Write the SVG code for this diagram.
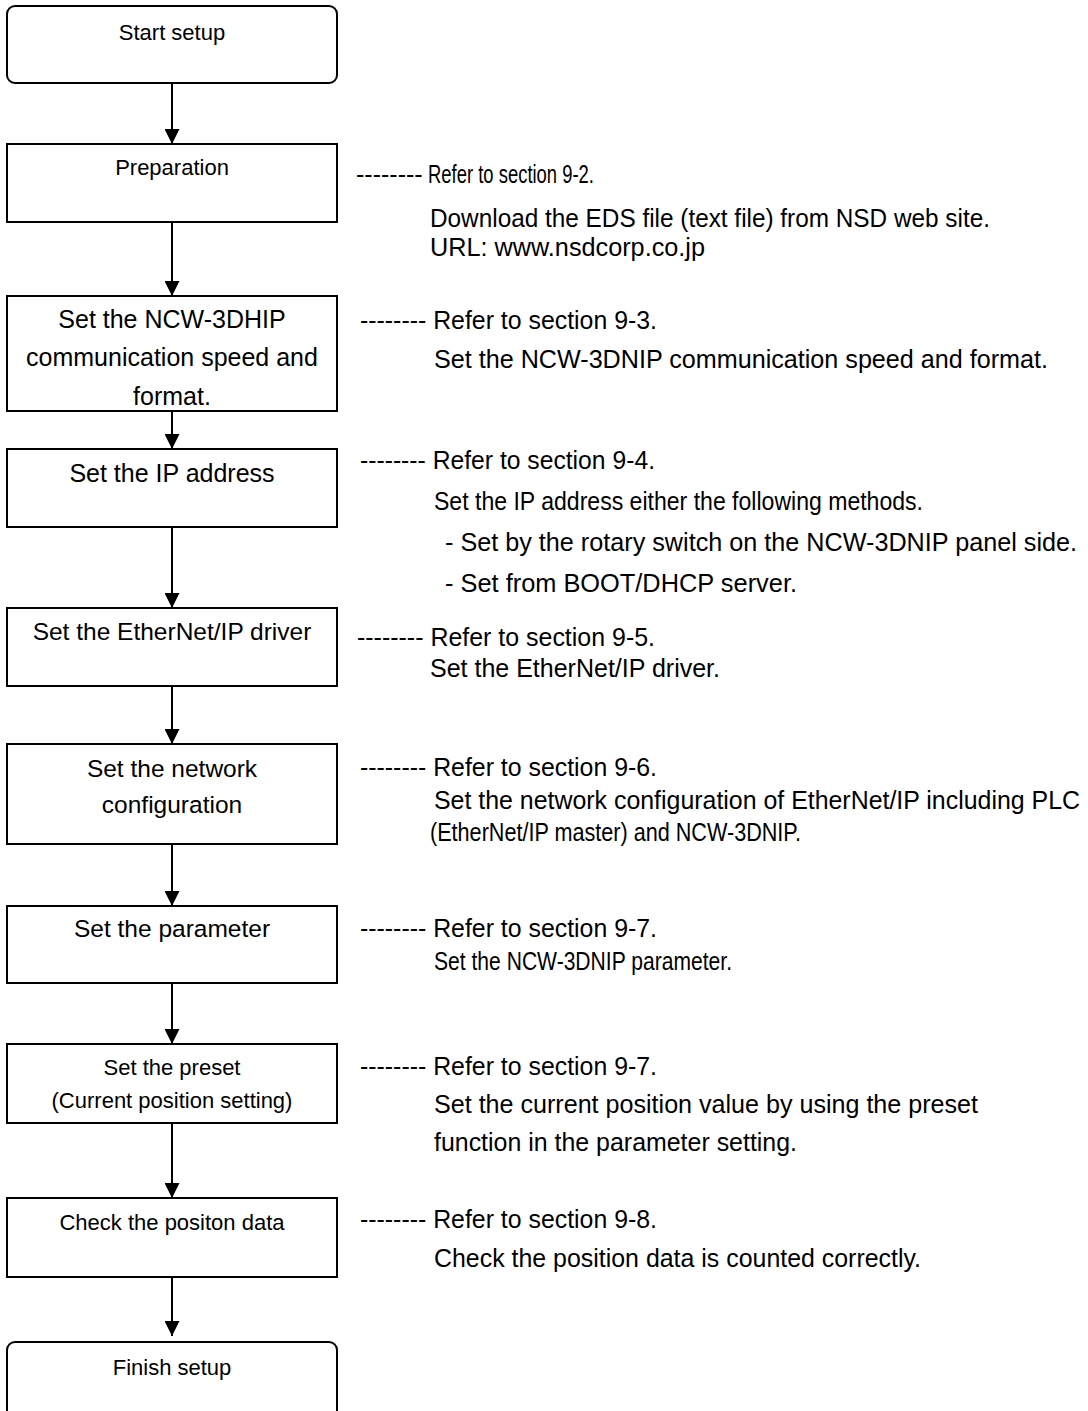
<svg xmlns="http://www.w3.org/2000/svg" width="1088" height="1411" viewBox="0 0 1088 1411">
<style>
.box{fill:#fff;stroke:#000;stroke-width:2}
.bt{font-family:"Liberation Sans",Arial,sans-serif;fill:#000;text-anchor:middle}
.rt{font-family:"Liberation Sans",Arial,sans-serif;fill:#000;font-size:25px}
.con{stroke:#000;stroke-width:2;fill:none;marker-end:url(#ah)}
</style>
<defs>
<marker id="ah" markerUnits="userSpaceOnUse" markerWidth="15" markerHeight="15" refX="15" refY="7.5" orient="auto" viewBox="0 0 15 15">
<path d="M0,0 L15,7.5 L0,15 z" fill="#000"/>
</marker>
</defs>
<rect width="1088" height="1411" fill="#fff"/>
<g id="connectors">
<line class="con" x1="172" y1="83" x2="172" y2="144"/>
<line class="con" x1="172" y1="222" x2="172" y2="296"/>
<line class="con" x1="172" y1="411" x2="172" y2="449"/>
<line class="con" x1="172" y1="527" x2="172" y2="608"/>
<line class="con" x1="172" y1="686" x2="172" y2="744"/>
<line class="con" x1="172" y1="844" x2="172" y2="906"/>
<line class="con" x1="172" y1="983" x2="172" y2="1044"/>
<line class="con" x1="172" y1="1123" x2="172" y2="1198"/>
<line class="con" x1="172" y1="1277" x2="172" y2="1336"/>
</g>
<g id="start">
<rect class="box" x="7" y="6" width="330" height="77" rx="8"/>
<text class="bt" x="172" y="40" font-size="22">Start setup</text>
</g>
<g id="preparation">
<rect class="box" x="7" y="144" width="330" height="78"/>
<text class="bt" x="172" y="175" font-size="22">Preparation</text>
</g>
<g id="comm">
<rect class="box" x="7" y="296" width="330" height="115"/>
<text class="bt" x="172" y="328" font-size="25">Set the NCW-3DHIP</text>
<text class="bt" x="172" y="366" font-size="25">communication speed and</text>
<text class="bt" x="172" y="405" font-size="25">format.</text>
</g>
<g id="ip">
<rect class="box" x="7" y="449" width="330" height="78"/>
<text class="bt" x="172" y="482" font-size="25">Set the IP address</text>
</g>
<g id="driver">
<rect class="box" x="7" y="608" width="330" height="78"/>
<text class="bt" x="172" y="640" font-size="24.5">Set the EtherNet/IP driver</text>
</g>
<g id="network">
<rect class="box" x="7" y="744" width="330" height="100"/>
<text class="bt" x="172" y="777" font-size="24.5">Set the network</text>
<text class="bt" x="172" y="813" font-size="24.5">configuration</text>
</g>
<g id="parameter">
<rect class="box" x="7" y="906" width="330" height="77"/>
<text class="bt" x="172" y="937" font-size="24.5">Set the parameter</text>
</g>
<g id="preset">
<rect class="box" x="7" y="1044" width="330" height="79"/>
<text class="bt" x="172" y="1075" font-size="22">Set the preset</text>
<text class="bt" x="172" y="1108" font-size="22">(Current position setting)</text>
</g>
<g id="check">
<rect class="box" x="7" y="1198" width="330" height="79"/>
<text class="bt" x="172" y="1230" font-size="22">Check the positon data</text>
</g>
<g id="finish">
<rect class="box" x="7" y="1342" width="330" height="100" rx="8"/>
<text class="bt" x="172" y="1375" font-size="22">Finish setup</text>
</g>
<g id="notes">
<text class="rt" x="356" y="183">-------- <tspan x="428" textLength="166" lengthAdjust="spacingAndGlyphs">Refer to section 9-2.</tspan></text>
<text class="rt" x="430" y="227" textLength="560" lengthAdjust="spacingAndGlyphs">Download the EDS file (text file) from NSD web site.</text>
<text class="rt" x="430" y="256" textLength="275" lengthAdjust="spacingAndGlyphs">URL: www.nsdcorp.co.jp</text>
<text class="rt" x="360" y="329" textLength="297" lengthAdjust="spacingAndGlyphs">-------- Refer to section 9-3.</text>
<text class="rt" x="434" y="368" textLength="614" lengthAdjust="spacingAndGlyphs">Set the NCW-3DNIP communication speed and format.</text>
<text class="rt" x="360" y="469" textLength="295" lengthAdjust="spacingAndGlyphs">-------- Refer to section 9-4.</text>
<text class="rt" x="434" y="510" textLength="489" lengthAdjust="spacingAndGlyphs">Set the IP address either the following methods.</text>
<text class="rt" x="445" y="551" textLength="632" lengthAdjust="spacingAndGlyphs">- Set by the rotary switch on the NCW-3DNIP panel side.</text>
<text class="rt" x="445" y="592" textLength="352" lengthAdjust="spacingAndGlyphs">- Set from BOOT/DHCP server.</text>
<text class="rt" x="357" y="646" textLength="298" lengthAdjust="spacingAndGlyphs">-------- Refer to section 9-5.</text>
<text class="rt" x="430" y="677" textLength="290" lengthAdjust="spacingAndGlyphs">Set the EtherNet/IP driver.</text>
<text class="rt" x="360" y="776" textLength="297" lengthAdjust="spacingAndGlyphs">-------- Refer to section 9-6.</text>
<text class="rt" x="434" y="809" textLength="646" lengthAdjust="spacingAndGlyphs">Set the network configuration of EtherNet/IP including PLC</text>
<text class="rt" x="430" y="841" textLength="371" lengthAdjust="spacingAndGlyphs">(EtherNet/IP master) and NCW-3DNIP.</text>
<text class="rt" x="360" y="937" textLength="297" lengthAdjust="spacingAndGlyphs">-------- Refer to section 9-7.</text>
<text class="rt" x="434" y="970" textLength="298" lengthAdjust="spacingAndGlyphs">Set the NCW-3DNIP parameter.</text>
<text class="rt" x="360" y="1075" textLength="297" lengthAdjust="spacingAndGlyphs">-------- Refer to section 9-7.</text>
<text class="rt" x="434" y="1113" textLength="544" lengthAdjust="spacingAndGlyphs">Set the current position value by using the preset</text>
<text class="rt" x="434" y="1151" textLength="363" lengthAdjust="spacingAndGlyphs">function in the parameter setting.</text>
<text class="rt" x="360" y="1228" textLength="297" lengthAdjust="spacingAndGlyphs">-------- Refer to section 9-8.</text>
<text class="rt" x="434" y="1267" textLength="487" lengthAdjust="spacingAndGlyphs">Check the position data is counted correctly.</text>
</g>
</svg>
